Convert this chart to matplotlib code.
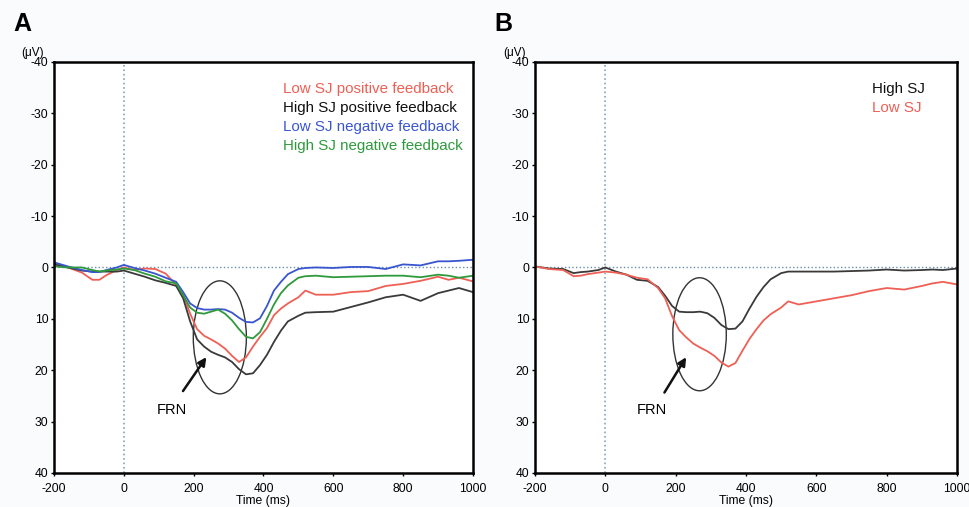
import matplotlib
matplotlib.use("Agg")
import matplotlib.pyplot as plt
from matplotlib.patches import Ellipse

plt.rcParams['font.family'] = ['Liberation Sans', 'DejaVu Sans']
plt.rcParams['axes.unicode_minus'] = False

# time grid (ms)
t = [-200, -160, -120, -90, -70, -50, -20, 0, 30, 60, 90, 120, 150, 170, 190, 210,
     230, 250, 270, 290, 310, 330, 350, 370, 390, 410, 430, 450, 470, 500, 520, 550,
     600, 650, 700, 750, 800, 850, 900, 930, 960, 1000]

# panel A (uV)
low_pos = [-0.8, 0.0, 1.0, 2.4, 2.4, 1.5, 0.5, 0.0, 0.5, 0.2, 0.3, 1.2, 3.4, 5.3, 9.0, 12.0,
           13.3, 14.0, 14.8, 15.8, 17.2, 18.4, 17.5, 15.4, 13.5, 11.8, 9.3, 8.0, 7.0, 5.8, 4.5, 5.3,
           5.3, 4.8, 4.6, 3.6, 3.2, 2.6, 1.8, 2.4, 2.0, 2.7]
high_pos = [-0.6, 0.0, 0.6, 0.8, 0.8, 0.8, 0.8, 0.6, 1.2, 1.8, 2.5, 3.0, 3.6, 6.0, 10.5, 14.0,
            15.4, 16.4, 17.0, 17.5, 18.4, 19.8, 20.8, 20.6, 19.0, 17.0, 14.5, 12.3, 10.5, 9.4, 8.8, 8.7,
            8.6, 7.7, 6.8, 5.8, 5.3, 6.5, 5.0, 4.5, 4.0, 4.8]
low_neg = [-1.0, -0.2, 0.5, 0.9, 0.9, 0.5, 0.0, -0.5, 0.1, 0.6, 1.2, 2.0, 2.8, 4.8, 7.0, 7.9,
           8.2, 8.2, 8.1, 8.2, 8.8, 9.8, 10.6, 10.7, 9.9, 7.5, 4.5, 2.8, 1.3, 0.3, 0.1, 0.0,
           0.1, -0.1, -0.1, 0.3, -0.6, -0.4, -1.2, -1.2, -1.3, -1.5]
high_neg = [-0.2, 0.0, 0.0, 0.5, 0.8, 0.6, 0.4, 0.2, 0.5, 1.2, 1.8, 2.7, 3.1, 5.4, 7.8, 8.8,
            9.0, 8.6, 8.2, 9.0, 10.3, 12.0, 13.5, 13.8, 12.6, 10.0, 7.2, 5.0, 3.5, 2.0, 1.7, 1.6,
            1.9, 1.8, 1.7, 1.6, 1.6, 1.9, 1.4, 1.6, 2.0, 1.6]

# panel B (uV)
high_sj = [-0.2, 0.2, 0.3, 1.1, 0.9, 0.8, 0.5, 0.0, 0.8, 1.4, 2.4, 2.6, 3.8, 5.5, 7.5, 8.6,
           8.7, 8.7, 8.6, 8.9, 9.8, 11.2, 12.0, 11.9, 10.5, 8.0, 5.7, 3.8, 2.3, 1.1, 0.8, 0.8,
           0.8, 0.8, 0.7, 0.6, 0.4, 0.6, 0.5, 0.4, 0.5, 0.2]
low_sj = [-0.2, 0.3, 0.5, 1.7, 1.6, 1.3, 1.0, 0.8, 1.0, 1.4, 2.0, 2.3, 4.0, 6.0, 9.5, 12.2,
          13.6, 14.8, 15.6, 16.3, 17.2, 18.5, 19.3, 18.6, 16.2, 13.9, 12.0, 10.3, 9.1, 7.8, 6.6, 7.2,
          6.6, 6.0, 5.4, 4.6, 4.0, 4.3, 3.6, 3.1, 2.8, 3.3]

RED = '#ee6055'
BLACK = '#3a3a3a'
BLUE = '#3a55d0'
GREEN = '#2f9a3c'

fig = plt.figure(figsize=(9.69, 5.07), dpi=100, facecolor='#fafbfd')
axA = fig.add_axes([0.0557, 0.0671, 0.4324, 0.8107])
axB = fig.add_axes([0.5521, 0.0671, 0.4355, 0.8107])


def style(ax):
    ax.set_xlim(-200, 1000)
    ax.set_ylim(40, -40)
    ax.set_xticks([-200, 0, 200, 400, 600, 800, 1000])
    ax.set_yticks([-40, -30, -20, -10, 0, 10, 20, 30, 40])
    ax.tick_params(axis='both', labelsize=8.7, length=2, width=1)
    ax.tick_params(axis='x', pad=5)
    ax.tick_params(axis='y', pad=2)
    for s in ax.spines.values():
        s.set_linewidth(1.8)
        s.set_color('black')
    ax.axvline(0, color='#7aa7c7', ls=':', lw=1.2)
    ax.axhline(0, color='#6a8fae', ls=':', lw=1)
    ax.set_xlabel('Time (ms)', fontsize=8.7, labelpad=0)


style(axA)
style(axB)

axA.plot(t, low_pos, color=RED, lw=1.3)
axA.plot(t, high_pos, color=BLACK, lw=1.3)
axA.plot(t, low_neg, color=BLUE, lw=1.3)
axA.plot(t, high_neg, color=GREEN, lw=1.3)

axB.plot(t, high_sj, color=BLACK, lw=1.3)
axB.plot(t, low_sj, color=RED, lw=1.3)

# legend texts
for i, (lab, c) in enumerate([('Low SJ positive feedback', RED),
                              ('High SJ positive feedback', '#111111'),
                              ('Low SJ negative feedback', BLUE),
                              ('High SJ negative feedback', GREEN)]):
    axA.text(455, -34.8 + 3.7 * i, lab, color=c, fontsize=10.9, va='center')
for i, (lab, c) in enumerate([('High SJ', '#111111'), ('Low SJ', RED)]):
    axB.text(758, -34.8 + 3.7 * i, lab, color=c, fontsize=10.9, va='center')

# FRN markers
for ax, cen, tail, head, txt in [(axA, (275, 13.6), (165, 24.5), (241, 17.0), (137, 27.7)),
                                 (axB, (268, 13.0), (164, 24.8), (234, 17.0), (131, 27.7))]:
    ax.add_patch(Ellipse(cen, 152, 22, fill=False, ec='#333333', lw=1))
    ax.annotate('', xy=head, xytext=tail,
                arrowprops=dict(arrowstyle='-|>', lw=1.8, color='#111111', mutation_scale=12))
    ax.text(txt[0], txt[1], 'FRN', fontsize=10.5, ha='center', va='center')

fig.text(0.034, 0.895, '(μV)', fontsize=8.5, ha='center', va='center')
fig.text(0.531, 0.895, '(μV)', fontsize=8.5, ha='center', va='center')
fig.text(0.0227, 0.953, 'A', fontsize=18, fontweight='bold', ha='center', va='center')
fig.text(0.519, 0.953, 'B', fontsize=18, fontweight='bold', ha='center', va='center')

fig.savefig('out.png', dpi=100, facecolor=fig.get_facecolor())
